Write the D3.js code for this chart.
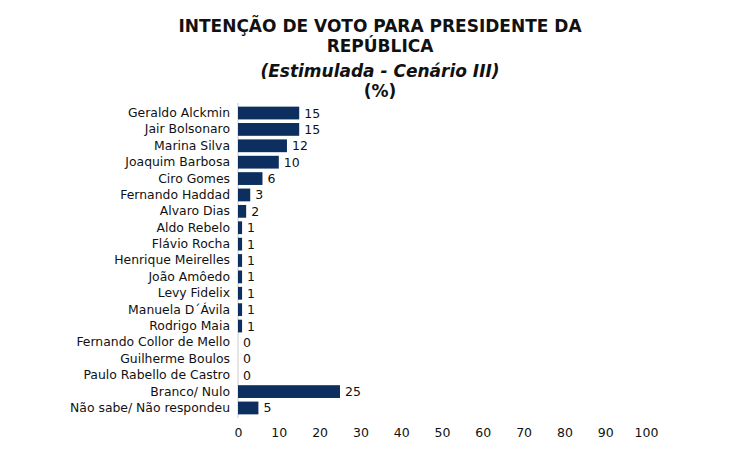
<!DOCTYPE html>
<html><head><meta charset="utf-8">
<script src="https://cdn.jsdelivr.net/npm/d3@7"></script>
<style>body{margin:0;background:#fff}text{font-family:"DejaVu Sans",Verdana,sans-serif}</style>
</head><body>
<svg id="chart" width="740" height="450"></svg>
<script>
var categories = ["Geraldo Alckmin","Jair Bolsonaro","Marina Silva","Joaquim Barbosa","Ciro Gomes","Fernando Haddad","Alvaro Dias","Aldo Rebelo","Flávio Rocha","Henrique Meirelles","João Amôedo","Levy Fidelix","Manuela D´Ávila","Rodrigo Maia","Fernando Collor de Mello","Guilherme Boulos","Paulo Rabello de Castro","Branco/ Nulo","Não sabe/ Não respondeu"];
var values = [15,15,12,10,6,3,2,1,1,1,1,1,1,1,0,0,0,25,5];
var ticks = [0,10,20,30,40,50,60,70,80,90,100];

var svg = d3.select("#chart");
var x = d3.scaleLinear().domain([0,100]).range([238,646]);
var y = d3.scaleBand().domain(categories).range([105,416]).paddingInner(0.22).paddingOuter(0.1);

var title = [
  {t:"INTENÇÃO DE VOTO PARA PRESIDENTE DA", y:32, s:"normal"},
  {t:"REPÚBLICA", y:52, s:"normal"},
  {t:"(Estimulada - Cenário III)", y:77, s:"italic"},
  {t:"(%)", y:97, s:"normal"}
];
svg.selectAll("text.title").data(title).enter().append("text")
  .attr("x",380).attr("y",d=>d.y).attr("text-anchor","middle")
  .attr("font-size",17).attr("font-weight","bold").attr("font-style",d=>d.s)
  .attr("fill","#111").text(d=>d.t);

svg.append("line").attr("x1",x(0)).attr("x2",x(0)).attr("y1",103).attr("y2",418)
  .attr("stroke","#ccc");

svg.selectAll("rect.bar").data(values).enter().append("rect")
  .attr("x",x(0)).attr("y",(d,i)=>y(categories[i]))
  .attr("width",d=>x(d)-x(0)).attr("height",y.bandwidth()).attr("fill","#0d2f5f");

svg.selectAll("text.val").data(values).enter().append("text")
  .attr("x",d=>x(d)+5).attr("y",(d,i)=>y(categories[i])+y.bandwidth()/2+4.5)
  .attr("font-size",12.5).attr("fill","#111").text(d=>d);

var yAxis = d3.axisLeft(y).tickSize(0).tickPadding(8);
var ga = svg.append("g").attr("transform","translate("+x(0)+",0)").call(yAxis);
ga.select(".domain").remove();
ga.selectAll("text").attr("font-size",12.4).attr("fill","#111").style("font-family","DejaVu Sans");

var xAxis = d3.axisBottom(x).tickValues(ticks).tickSize(0).tickPadding(8);
var gx = svg.append("g").attr("transform","translate(0,420)").call(xAxis);
gx.select(".domain").remove();
gx.selectAll("text").attr("font-size",12.5).attr("fill","#111").style("font-family","DejaVu Sans");
</script>
</body></html>
